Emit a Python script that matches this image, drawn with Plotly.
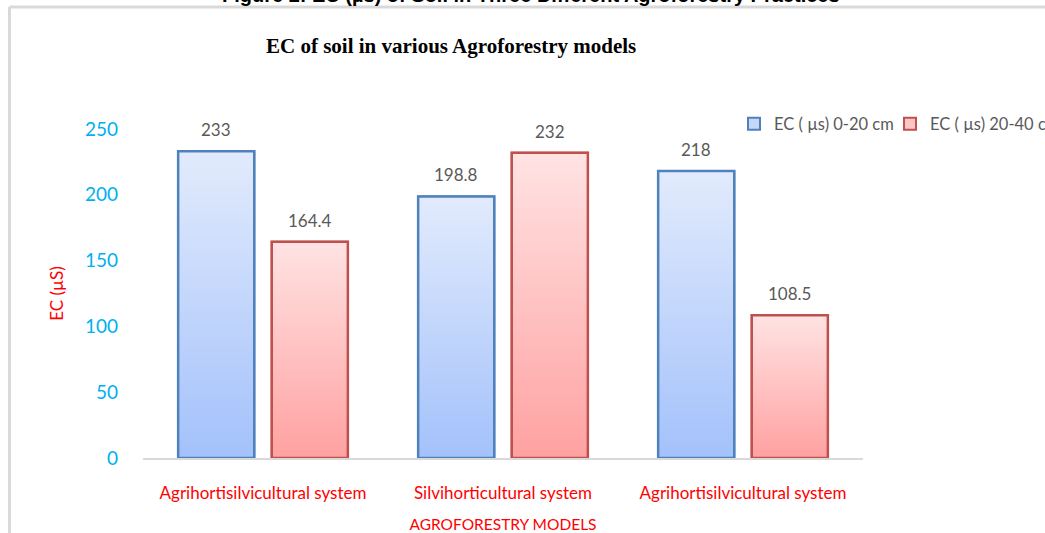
import plotly.graph_objects as go

categories = ["Agrihortisilvicultural system", "Silvihorticultural system", "Agrihortisilvicultural system"]
ec_0_20 = [233, 198.8, 218]
ec_20_40 = [164.4, 232, 108.5]
label_0_20 = ["233", "198.8", "218"]
label_20_40 = ["164.4", "232", "108.5"]
series_names = ["EC ( µs) 0-20 cm", "EC ( µs) 20-40 cm"]
y_ticks = [0, 50, 100, 150, 200, 250]

BARGAP = 0.22
BARGROUPGAP = 0.187
slot = (1 - BARGAP) / 2
half_w = slot * (1 - BARGROUPGAP) / 2
offsets = [-slot / 2, slot / 2]

styles = [
    dict(line="#4f81bd", top="#e2ebfc", bottom="#a3c1fb", legend="#c5d7fb", lg="legend"),
    dict(line="#c0504d", top="#ffe3e3", bottom="#ffa1a1", legend="#ffc4c4", lg="legend2"),
]
FONT = "Lato, Open Sans, sans-serif"

xs = list(range(len(categories)))
fig = go.Figure()

for s, (vals, name) in enumerate([(ec_0_20, series_names[0]), (ec_20_40, series_names[1])]):
    st = styles[s]
    fig.add_trace(go.Bar(
        x=xs, y=vals, name=name, legend=st["lg"],
        marker=dict(color=st["legend"], line=dict(color=st["line"], width=2)),
        hoverinfo="skip",
    ))

for s, vals in enumerate([ec_0_20, ec_20_40]):
    st = styles[s]
    for i, v in enumerate(vals):
        c = xs[i] + offsets[s]
        fig.add_trace(go.Scatter(
            x=[c - half_w, c + half_w, c + half_w, c - half_w, c - half_w],
            y=[0, 0, v, v, 0],
            mode="lines", fill="toself",
            fillgradient=dict(type="vertical",
                              colorscale=[[0, st["bottom"]], [1, st["top"]]]),
            line=dict(color=st["line"], width=2.5),
            showlegend=False, hoverinfo="skip",
        ))

for s, (vals, labels) in enumerate([(ec_0_20, label_0_20), (ec_20_40, label_20_40)]):
    for i, v in enumerate(vals):
        fig.add_annotation(
            x=xs[i] + offsets[s], y=v, text=labels[i], showarrow=False,
            yanchor="bottom", yshift=9,
            font=dict(family=FONT, size=17, color="#595959"),
        )

H = 329.0
W = 720.0
# frame lines (decoration)
fig.add_shape(type="line", xref="paper", yref="paper",
              x0=(9.5 - 143) / W, x1=(1045 - 143) / W, y0=(458 - 7) / H, y1=(458 - 7) / H,
              line=dict(color="#d9d9d9", width=3))
fig.add_shape(type="line", xref="paper", yref="paper",
              x0=(9.5 - 143) / W, x1=(9.5 - 143) / W, y0=(458 - 7) / H, y1=(458 - 540) / H,
              line=dict(color="#d9d9d9", width=3))

fig.add_annotation(
    xref="paper", yref="paper", x=(531 - 143) / W, y=(458 - 8) / H,
    text="<b>Figure 2: EC (µs) of Soil in Three Different Agroforestry Practices</b>",
    showarrow=False, yanchor="bottom",
    font=dict(family="Liberation Sans, Arial", size=20, color="#000000"),
)
fig.add_annotation(
    xref="paper", yref="paper", x=(451 - 143) / W, y=(458 - 46) / H,
    text="<b>EC of soil in various Agroforestry models</b>",
    showarrow=False, yanchor="middle",
    font=dict(family="Liberation Serif, Times New Roman", size=21, color="#000000"),
)

legend_common = dict(orientation="h", yanchor="middle", xanchor="left",
                     font=dict(family=FONT, size=16.5, color="#595959"),
                     bgcolor="rgba(0,0,0,0)", itemwidth=30)

fig.update_layout(
    width=1045, height=533,
    margin=dict(l=143, r=182, t=129, b=75, autoexpand=False),
    paper_bgcolor="white", plot_bgcolor="white",
    barmode="group", bargap=BARGAP, bargroupgap=BARGROUPGAP,
    showlegend=True,
    legend=dict(x=(734 - 143) / W, y=(458 - 124) / H, **legend_common),
    legend2=dict(x=(890 - 143) / W, y=(458 - 124) / H, **legend_common),
    xaxis=dict(range=[-0.5, 2.5], tickvals=xs, ticktext=categories,
               showgrid=False, zeroline=False, showline=True, linecolor="#d9d9d9", linewidth=2,
               ticks="", ticklabelstandoff=19,
               tickfont=dict(family=FONT, size=17, color="#ff0000"),
               title=dict(text="AGROFORESTRY MODELS", standoff=19,
                          font=dict(family=FONT, size=15.5, color="#ff0000"))),
    yaxis=dict(range=[0, 250], tickvals=y_ticks, showgrid=False, zeroline=False,
               showline=False, ticks="", ticklabelstandoff=24,
               tickfont=dict(family=FONT, size=19, color="#00b0f0"),
               title=dict(text="EC (µS)", standoff=16,
                          font=dict(family=FONT, size=17, color="#ff0000"))),
)

fig.write_html("out.html")
